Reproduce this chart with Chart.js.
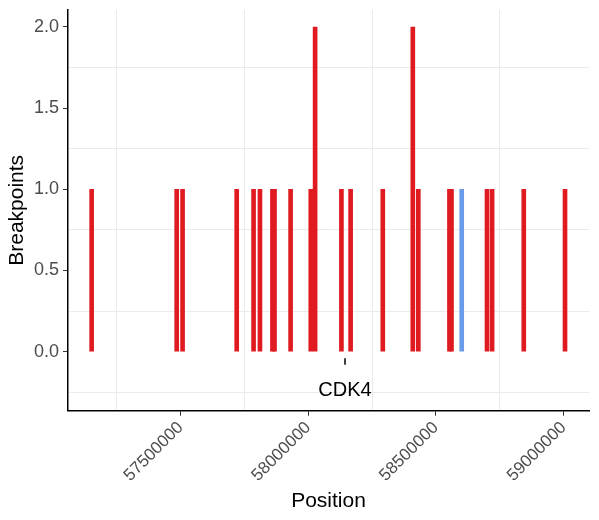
<!DOCTYPE html>
<html>
<head>
<meta charset="utf-8">
<title>Breakpoints</title>
<script src="https://cdn.jsdelivr.net/npm/chart.js@4/dist/chart.umd.min.js"></script>
<style>
  html, body { margin: 0; padding: 0; background: #fff; }
  #wrap { width: 599px; height: 520px; }
</style>
</head>
<body>
<div id="wrap"><canvas id="bpChart" width="599" height="520"></canvas></div>
<script>
// breakpoint positions along the chromosome and their counts
const positions = [
  57152000, 57485000, 57508000, 57720000, 57786000, 57811000, 57860000, 57868000,
  57931000, 58010000, 58027000, 58130000, 58166000, 58292000, 58409500, 58431000,
  58553000, 58561000, 58601000, 58700000, 58720000, 58844000, 59005500
];
const counts = [1, 1, 1, 1, 1, 1, 1, 1, 1, 1, 2, 1, 1, 1, 2, 1, 1, 1, 1, 1, 1, 1, 1];
const sampleGroup = [1, 1, 1, 1, 1, 1, 1, 1, 1, 1, 1, 1, 1, 1, 1, 1, 1, 1, 2, 1, 1, 1, 1];

// gene annotation
const geneName = 'CDK4';
const genePos = 58144000;
const geneTick = [-0.04, -0.08];
const geneLabelY = -0.24;

// axes
const xRange = [57059400, 59099400];
const yRange = [-0.3635, 2.1047];
const xMajor = [57500000, 58000000, 58500000, 59000000];
const xMinor = [57250000, 57750000, 58250000, 58750000];
const yMajor = [0, 0.5, 1, 1.5, 2];
const yMinor = [-0.25, 0.25, 0.75, 1.25, 1.75];

const groupColor = { 1: '#DF1B21', 2: '#6B9BE8' };
const FONT = "'Liberation Sans', Arial, sans-serif";

const isMajor = (list, v) => list.some(m => Math.abs(m - v) < 1e-6 * Math.max(1, Math.abs(m)));

function setTicks(majors, minors){
  return function(scale){
    scale.ticks = majors.concat(minors).sort((a, b) => a - b).map(v => ({ value: v }));
  };
}

const geneLabel = {
  id: 'geneLabel',
  afterDatasetsDraw(chart){
    const { ctx, scales } = chart;
    ctx.save();
    ctx.font = '20px ' + FONT;
    ctx.fillStyle = '#000';
    ctx.textAlign = 'center';
    ctx.textBaseline = 'middle';
    ctx.fillText(geneName, scales.x.getPixelForValue(genePos), scales.y.getPixelForValue(geneLabelY));
    ctx.restore();
  }
};

const ctx = document.getElementById('bpChart').getContext('2d');
new Chart(ctx, {
  type: 'bar',
  data: {
    datasets: [
      {
        type: 'bar',
        data: positions.map((p, i) => ({ x: p, y: [0, counts[i]] })),
        backgroundColor: sampleGroup.map(g => groupColor[g]),
        borderWidth: 0,
        barThickness: 4,
        order: 2
      },
      {
        type: 'line',
        data: geneTick.map(y => ({ x: genePos, y })),
        borderColor: '#000',
        borderWidth: 1.5,
        pointRadius: 0,
        order: 1
      }
    ]
  },
  options: {
    responsive: false,
    animation: false,
    layout: { padding: { left: 0, right: 10, top: 10, bottom: 0 } },
    plugins: { legend: { display: false }, tooltip: { enabled: false } },
    scales: {
      x: {
        type: 'linear',
        min: xRange[0], max: xRange[1],
        offset: false,
        afterBuildTicks: setTicks(xMajor, xMinor),
        afterFit(scale){ scale.height = 109.3; scale.paddingLeft = 0; scale.paddingRight = 0; },
        border: { color: '#000', width: 1.5 },
        grid: {
          offset: false,
          color: c => isMajor(xMajor, c.tick.value) ? 'rgba(0,0,0,0)' : '#EBEBEB',
          tickColor: c => isMajor(xMajor, c.tick.value) ? '#333' : 'rgba(0,0,0,0)',
          lineWidth: 1,
          tickLength: 5
        },
        ticks: {
          autoSkip: false,
          minRotation: 45, maxRotation: 45,
          padding: 2,
          color: '#4D4D4D',
          font: { family: FONT, size: 17 },
          callback: v => isMajor(xMajor, v) ? String(v) : ''
        },
        title: {
          display: true, text: 'Position', color: '#000',
          font: { family: FONT, size: 21 },
          padding: { top: 4, bottom: 6 }
        }
      },
      y: {
        min: yRange[0], max: yRange[1],
        afterBuildTicks: setTicks(yMajor, yMinor),
        afterFit(scale){ scale.width = 68; scale.paddingTop = 0; scale.paddingBottom = 0; },
        border: { color: '#000', width: 1.5 },
        grid: {
          color: c => isMajor(yMajor, c.tick.value) ? 'rgba(0,0,0,0)' : '#EBEBEB',
          tickColor: c => isMajor(yMajor, c.tick.value) ? '#333' : 'rgba(0,0,0,0)',
          lineWidth: 1,
          tickLength: 5
        },
        ticks: {
          autoSkip: false,
          padding: 4,
          color: '#4D4D4D',
          font: { family: FONT, size: 18 },
          callback: v => isMajor(yMajor, v) ? v.toFixed(1) : ''
        },
        title: {
          display: true, text: 'Breakpoints', color: '#000',
          font: { family: FONT, size: 21 },
          padding: { top: 5, bottom: 3 }
        }
      }
    }
  },
  plugins: [geneLabel]
});
</script>
</body>
</html>
